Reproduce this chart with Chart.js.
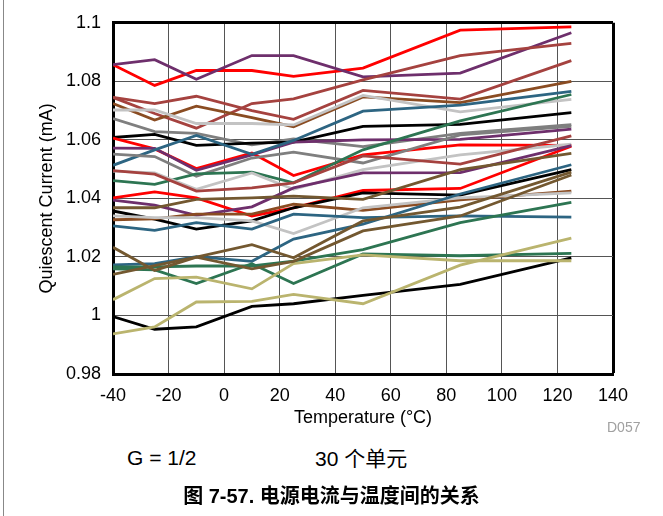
<!DOCTYPE html>
<html>
<head>
<meta charset="utf-8">
<script src="https://cdn.jsdelivr.net/npm/chart.js@4"></script>
<style>
  body { margin: 0; background: #fff; }
  #wrap { position: relative; width: 663px; height: 516px; overflow: hidden; font-family: "Liberation Sans", Arial, sans-serif; }
  #chart { position: absolute; left: 0; top: 0; }
  .txt { position: absolute; white-space: nowrap; color: #000; line-height: 1; }
  #edgeL { position: absolute; left: 3px; top: 0; width: 1px; height: 516px; background: #888; }
</style>
</head>
<body>
<div id="wrap">
  <canvas id="chart" width="663" height="432"></canvas>
  <div id="edgeL"></div>
  <div class="txt" style="left:607px; top:420px; font-size:14px; color:#a0a0a0;">D057</div>
  <div class="txt" style="left:127px; top:447px; font-size:21px;">G = 1/2</div>
  <div class="txt" style="left:315px; top:448px; font-size:21px; font-family:'Liberation Sans','Noto Sans CJK SC',sans-serif;">30 个单元</div>
  <div class="txt" style="left:0; width:663px; text-align:center; top:486px; font-size:20px; font-weight:bold; font-family:'Liberation Sans','Noto Sans CJK SC',sans-serif;">图 7-57. 电源电流与温度间的关系</div>
</div>
<script>
// temperature points (°C)
const temps = [-40, -25, -10, 10, 25, 50, 85, 125];

// quiescent current (mA), one array per unit
const red1 = [1.0857, 1.0786, 1.0837, 1.0837, 1.0817, 1.0845, 1.0975, 1.0986];
const red2 = [1.0606, 1.0569, 1.0502, 1.0555, 1.0478, 1.0549, 1.0583, 1.0581];
const red3 = [1.0402, 1.0422, 1.0402, 1.0340, 1.0368, 1.0427, 1.0434, 1.0578];
const purple1 = [1.0857, 1.0874, 1.0807, 1.0888, 1.0888, 1.0815, 1.0828, 1.0966];
const purple2 = [1.0572, 1.0571, 1.0496, 1.0549, 1.0592, 1.0600, 1.0602, 1.0637];
const purple3 = [1.0394, 1.0377, 1.0342, 1.0371, 1.0436, 1.0487, 1.0488, 1.0580];
const black1 = [1.0608, 1.0619, 1.0581, 1.0589, 1.0592, 1.0646, 1.0653, 1.0693];
const black2 = [1.0357, 1.0329, 1.0295, 1.0323, 1.0368, 1.0419, 1.0411, 1.0498];
const black3 = [0.9996, 0.9953, 0.9961, 1.0031, 1.0040, 1.0069, 1.0106, 1.0197];
const gray1 = [1.0673, 1.0628, 1.0622, 1.0583, 1.0603, 1.0577, 1.0622, 1.0652];
const gray2 = [1.0551, 1.0543, 1.0476, 1.0538, 1.0558, 1.0521, 1.0617, 1.0646];
const silver1 = [1.0702, 1.0702, 1.0656, 1.0656, 1.0651, 1.0752, 1.0696, 1.0738];
const silver2 = [1.0493, 1.0487, 1.0431, 1.0487, 1.0431, 1.0498, 1.0549, 1.0585];
const silver3 = [1.0340, 1.0334, 1.0334, 1.0323, 1.0280, 1.0368, 1.0402, 1.0419];
const rust1 = [1.0745, 1.0690, 1.0640, 1.0724, 1.0740, 1.0805, 1.0888, 1.0930];
const rust2 = [1.0745, 1.0724, 1.0749, 1.0700, 1.0670, 1.0769, 1.0739, 1.0871];
const rust3 = [1.0495, 1.0483, 1.0425, 1.0436, 1.0453, 1.0545, 1.0517, 1.0614];
const brown1 = [1.0724, 1.0668, 1.0715, 1.0676, 1.0645, 1.0747, 1.0727, 1.0800];
const brown2 = [1.0368, 1.0368, 1.0397, 1.0402, 1.0408, 1.0397, 1.0498, 1.0554];
const brown3 = [1.0327, 1.0330, 1.0346, 1.0346, 1.0380, 1.0359, 1.0395, 1.0425];
const brown4 = [1.0233, 1.0154, 1.0199, 1.0242, 1.0197, 1.0323, 1.0370, 1.0490];
const brown5 = [1.0140, 1.0170, 1.0199, 1.0159, 1.0185, 1.0289, 1.0340, 1.0480];
const teal1 = [1.0513, 1.0566, 1.0615, 1.0551, 1.0598, 1.0698, 1.0719, 1.0766];
const teal2 = [1.0306, 1.0291, 1.0317, 1.0295, 1.0346, 1.0334, 1.0340, 1.0336];
const teal3 = [1.0173, 1.0177, 1.0201, 1.0185, 1.0261, 1.0312, 1.0415, 1.0515];
const green1 = [1.0461, 1.0448, 1.0484, 1.0490, 1.0453, 1.0566, 1.0665, 1.0755];
const green2 = [1.0159, 1.0156, 1.0109, 1.0177, 1.0109, 1.0210, 1.0204, 1.0212];
const green3 = [1.0166, 1.0166, 1.0169, 1.0169, 1.0186, 1.0225, 1.0317, 1.0386];
const khaki1 = [1.0054, 1.0126, 1.0131, 1.0091, 1.0177, 1.0207, 1.0187, 1.0187];
const khaki2 = [0.9937, 0.9961, 1.0046, 1.0048, 1.0072, 1.0040, 1.0172, 1.0264];

const xTicks = [-40, -20, 0, 20, 40, 60, 80, 100, 120, 140];
const yTicks = [0.98, 1, 1.02, 1.04, 1.06, 1.08, 1.1];

const colors = {
    red: '#ff0000', purple: '#6e2f6c', black: '#000000', gray: '#7f7f7f',
    silver: '#c3c3c3', rust: '#a5423f', brown: '#8a4c22', olive: '#735830',
    teal: '#2d6582', green: '#2d7552', khaki: '#bab46e'
};

const units = [
    [brown5, colors.olive], [brown4, colors.olive], [khaki2, colors.khaki], [khaki1, colors.khaki],
    [black3, colors.black], [green2, colors.green], [green3, colors.green], [teal3, colors.teal],
    [teal2, colors.teal], [silver3, colors.silver], [brown3, colors.brown], [brown2, colors.olive],
    [black2, colors.black], [purple3, colors.purple], [red3, colors.red], [rust3, colors.rust],
    [silver2, colors.silver], [green1, colors.green], [gray2, colors.gray], [teal1, colors.teal],
    [purple2, colors.purple], [red2, colors.red], [black1, colors.black], [gray1, colors.gray],
    [silver1, colors.silver], [brown1, colors.brown], [rust2, colors.rust], [rust1, colors.rust],
    [purple1, colors.purple], [red1, colors.red]
];

const tickFont = { family: 'Liberation Sans', size: 18 };

new Chart(document.getElementById('chart'), {
    type: 'line',
    data: {
        datasets: units.map(function (u, i) {
            return {
                label: 'Unit ' + (i + 1),
                data: temps.map(function (t, j) { return { x: t, y: u[0][j] }; }),
                borderColor: u[1],
                borderWidth: 2.8,
                pointRadius: 0,
                fill: false,
                tension: 0
            };
        })
    },
    options: {
        responsive: false,
        animation: false,
        devicePixelRatio: 1,
        layout: { padding: { left: 36, top: 20, right: 50, bottom: 0 } },
        plugins: { legend: { display: false }, tooltip: { enabled: false } },
        scales: {
            x: {
                type: 'linear',
                min: -40, max: 140,
                afterFit: function (s) { s.height = 58; },
                afterBuildTicks: function (s) { s.ticks = xTicks.map(function (v) { return { value: v }; }); },
                ticks: { font: tickFont, color: '#000', padding: 11, maxRotation: 0 },
                grid: {
                    drawTicks: false,
                    color: function (c) { return c.tick && c.tick.value === 140 ? '#000' : '#555'; },
                    lineWidth: function (c) { return c.tick && c.tick.value === 140 ? 3 : 1; }
                },
                border: { color: '#000', width: 3 },
                title: { display: true, text: 'Temperature (°C)', font: tickFont, color: '#000', padding: { top: 0, bottom: 3 } }
            },
            y: {
                min: 0.98, max: 1.1,
                afterFit: function (s) { s.width = 77; },
                afterBuildTicks: function (s) { s.ticks = yTicks.map(function (v) { return { value: v }; }); },
                ticks: {
                    font: tickFont, color: '#000', padding: 12,
                    callback: function (v) { return String(Math.round(v * 100) / 100); }
                },
                grid: {
                    drawTicks: false,
                    color: function (c) { return c.tick && Math.abs(c.tick.value - 1.1) < 1e-6 ? '#000' : '#555'; },
                    lineWidth: function (c) { return c.tick && Math.abs(c.tick.value - 1.1) < 1e-6 ? 3 : 1; }
                },
                border: { color: '#000', width: 3 },
                title: { display: true, text: 'Quiescent Current (mA)', font: tickFont, color: '#000', padding: 0 }
            }
        }
    }
});
</script>
</body>
</html>
